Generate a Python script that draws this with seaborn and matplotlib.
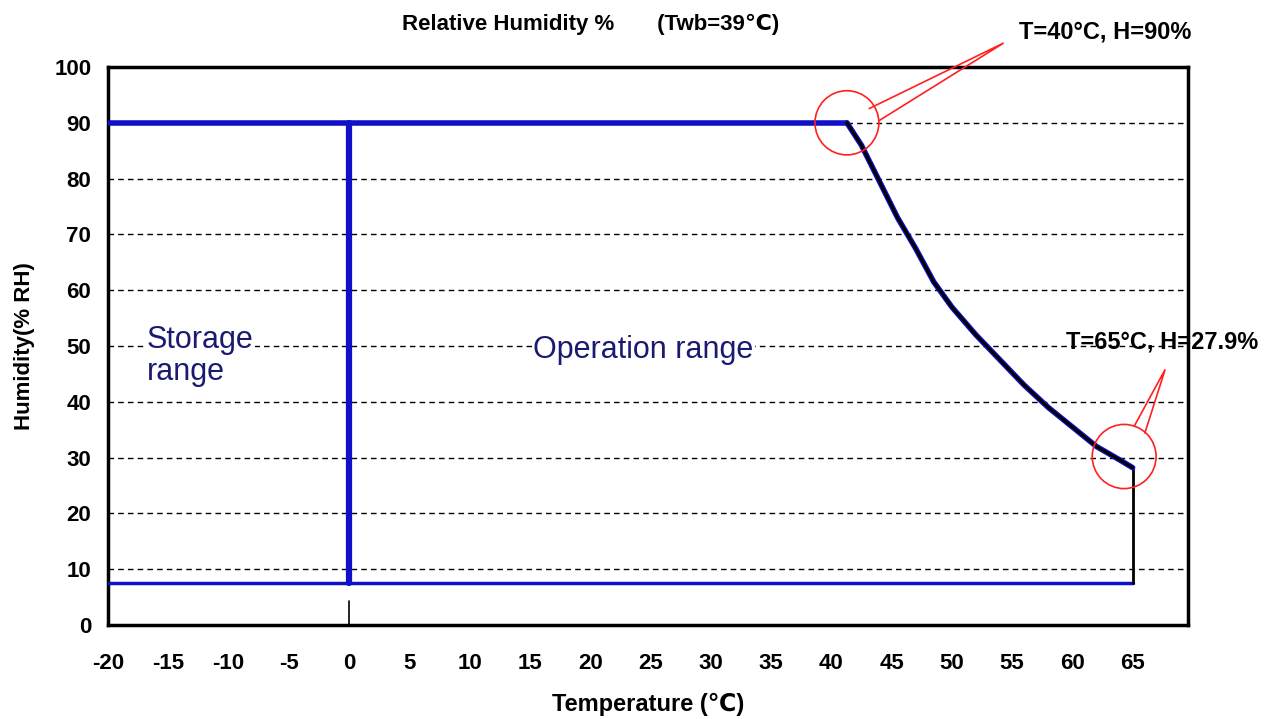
import numpy as np
import pandas as pd
import seaborn as sns
import matplotlib.pyplot as plt
from matplotlib.patches import Ellipse, Polygon

# operating limit curve (temperature degC, humidity %RH)
curve_temp = [41.3, 42.5, 44.0, 45.5, 47.0, 48.5, 50.0, 52.0, 54.0, 56.0, 58.0, 60.0, 62.0, 64.0, 65.0]
curve_hum = [90.0, 86.0, 79.5, 73.0, 67.5, 61.5, 57.0, 52.0, 47.5, 43.0, 39.0, 35.5, 32.0, 29.5, 28.2]

# storage / operation boundaries
upper_temp = [-20, 41.3]
upper_hum = [90, 90]
lower_temp = [-20, 65]
lower_hum = [7.6, 7.6]
split_temp = [0, 0]
split_hum = [7.6, 90]
end_temp = [65, 65]
end_hum = [28.2, 7.6]

x_ticks = list(range(-20, 70, 5))
y_ticks = list(range(0, 110, 10))
grid_levels = list(range(10, 100, 10))

sns.set_style("white")
plt.rcParams['font.family'] = ['Liberation Sans', 'DejaVu Sans']
plt.rcParams['axes.unicode_minus'] = False
plt.rcParams['text.color'] = 'black'
plt.rcParams['axes.labelcolor'] = 'black'
plt.rcParams['xtick.color'] = 'black'
plt.rcParams['ytick.color'] = 'black'

fig = plt.figure(figsize=(12.79, 7.19), dpi=100)
ax = fig.add_axes([0.0844, 0.1307, 0.8445, 0.7761])

blue = "#1010c8"

# dashed grid lines
for lvl in grid_levels:
    ax.axhline(lvl, color="black", lw=1, ls=(0, (4, 3)), zorder=1)

df_up = pd.DataFrame({"T": upper_temp, "H": upper_hum})
df_low = pd.DataFrame({"T": lower_temp, "H": lower_hum})
df_split = pd.DataFrame({"T": split_temp, "H": split_hum})
df_end = pd.DataFrame({"T": end_temp, "H": end_hum})
df_curve = pd.DataFrame({"T": curve_temp, "H": curve_hum})

kw = dict(x="T", y="H", sort=False, estimator=None, ax=ax)
sns.lineplot(data=df_up, color=blue, lw=4, zorder=3, **kw)
sns.lineplot(data=df_low, color=blue, lw=2.5, zorder=3, **kw)
sns.lineplot(data=df_split, color=blue, lw=4.5, zorder=3, **kw)
sns.lineplot(data=df_end, color="black", lw=2, zorder=3, **kw)
sns.lineplot(data=df_curve, color=blue, lw=4, zorder=3, **kw)
sns.lineplot(data=df_curve, color="black", lw=2.2, zorder=4, **kw)

ax.set_xlim(-20, 69.6)
ax.set_ylim(0, 100)
ax.set_xticks(x_ticks)
ax.set_yticks(y_ticks)
ax.tick_params(axis="both", direction="in", length=6, width=1.2, labelsize=16)
ax.tick_params(axis="x", pad=20)
ax.tick_params(axis="y", pad=12)
for lab in ax.get_xticklabels() + ax.get_yticklabels():
    lab.set_fontweight("bold")
for s in ax.spines.values():
    s.set_color("black")
    s.set_linewidth(2.5)

# long tick at 0
ax.plot([0, 0], [0, 4.3], color="black", lw=1.2, zorder=2)

ax.set_xlabel("Temperature (℃)", fontsize=17, fontweight="bold", labelpad=14)
ax.set_ylabel("Humidity(% RH)", fontsize=16, fontweight="bold", labelpad=14)
fig.text(0.462, 0.966, "Relative Humidity %       (Twb=39℃)", ha="center", va="center",
         fontsize=16, fontweight="bold")

# region labels
bg = dict(facecolor="white", edgecolor="none", pad=1)
ax.text(-16.8, 48.2, "Storage\nrange", fontsize=22, color="#1a1a70", ha="left",
        va="center", linespacing=1.05, bbox=bg, zorder=5)
ax.text(24.4, 49.3, "Operation range", fontsize=22, color="#1a1a70", ha="center",
        va="center", bbox=bg, zorder=5)

# callouts
red = "#ff2020"
c1 = (curve_temp[0], curve_hum[0])
c2 = (curve_temp[-1] - 0.7, curve_hum[-1] + 2.0)
for (cx, cy) in [c1, c2]:
    ax.add_patch(Ellipse((cx, cy), 5.3, 11.5, fill=False, ec=red, lw=1.2,
                         zorder=6, clip_on=False))
ax.add_patch(Polygon([(c1[0] + 1.8, c1[1] + 2.5), (c1[0] + 13.0, c1[1] + 14.3),
                      (c1[0] + 2.6, c1[1] + 0.3)], closed=False, fill=False,
                     ec=red, lw=1.2, zorder=6, clip_on=False))
ax.add_patch(Polygon([(c2[0] + 0.8, c2[1] + 5.3), (c2[0] + 3.4, c2[1] + 15.6),
                      (c2[0] + 1.7, c2[1] + 4.1)], closed=False, fill=False,
                     ec=red, lw=1.2, zorder=6, clip_on=False))
ax.text(c1[0] + 14.3, c1[1] + 16.2, "T=40°C, H=90%", fontsize=17, fontweight="bold",
        ha="left", va="center", clip_on=False)
ax.text(c2[0] - 4.8, c2[1] + 20.5, "T=65°C, H=27.9%", fontsize=17, fontweight="bold",
        ha="left", va="center", clip_on=False, zorder=7)

plt.savefig("out.png", dpi=100)
